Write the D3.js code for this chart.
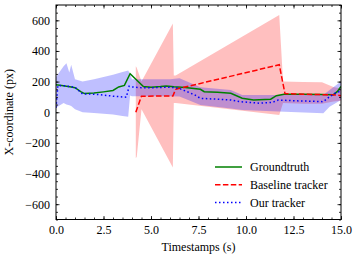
<!DOCTYPE html>
<html><head><meta charset="utf-8">
<script src="https://cdn.jsdelivr.net/npm/d3@7"></script>
<style>
html,body{margin:0;padding:0;background:#fff;}
svg{display:block;font-family:"Liberation Serif","DejaVu Serif",serif;}
</style></head>
<body>
<svg id="chart" width="358" height="259"></svg>
<script>
// ---- data ----
const gtT = [0, 0.3, 0.8, 1.0, 1.3, 1.5, 2.0, 2.5, 3.0, 3.3, 3.6, 3.9, 4.6, 5.0, 5.5, 5.8, 6.2, 6.8, 7.6, 7.8, 8.5, 9.2, 9.8, 10.4, 11.3, 11.6, 12.0, 13.0, 14.0, 14.6, 14.8, 15.0];
const gtV = [180, 175, 165, 160, 135, 122, 125, 133, 142, 165, 175, 252, 168, 163, 168, 172, 167, 162, 150, 134, 130, 124, 91, 80, 85, 108, 117, 117, 116, 115, 134, 168];

const baseT = [4.2, 4.5, 6.15, 6.3, 11.75, 12.05, 13.0, 14.0, 14.7, 15.0];
const baseV = [0, 105, 106, 150, 310, 122, 118, 115, 113, 108];
const baseBandT = [4.2, 4.25, 4.5, 6.15, 6.2, 6.3, 11.75, 11.95, 13.0, 14.0, 14.6, 15.0];
const baseUpper = [300, 290, 200, 580, 240, 240, 635, 200, 198, 195, 165, 155];
const baseLower = [-300, -290, 20, -360, 60, 60, -18, 60, 55, 55, 70, 75];

const oursT = [0, 0.1, 0.5, 1.0, 1.4, 2.0, 2.5, 3.0, 3.5, 3.7, 3.85, 4.0, 4.5, 5.0, 5.5, 6.0, 6.3, 6.6, 7.3, 7.6, 8.5, 9.2, 9.7, 10.7, 11.4, 11.7, 12.5, 13.5, 14.07, 14.4, 14.7, 15.0];
const oursV = [30, 175, 172, 163, 119, 118, 112, 105, 100, 98, 170, 165, 160, 160, 162, 163, 160, 150, 113, 91, 85, 80, 69, 59, 65, 80, 75, 72, 69, 102, 124, 140];
const oursBandT = [0, 0.4, 0.55, 0.7, 0.8, 1.0, 1.4, 2.0, 2.5, 3.0, 3.5, 3.8, 3.9, 4.0, 5.0, 6.0, 6.5, 7.6, 9.2, 9.8, 11.7, 14.07, 14.4, 15.0];
const oursUpper = [230, 300, 320, 260, 310, 215, 200, 215, 230, 245, 262, 272, 250, 215, 215, 215, 222, 163, 145, 113, 113, 113, 145, 200];
const oursLower = [30, 60, 50, 45, 40, 20, 0, -5, -10, -15, -25, -30, 110, 105, 105, 105, 102, 47, 25, 15, 5, -7, 36, 80];

const xMajor = [0, 2.5, 5, 7.5, 10, 12.5, 15];
const yMajor = [-600, -400, -200, 0, 200, 400, 600];
const legendLabels = ["Groundtruth", "Baseline tracker", "Our tracker"];

// ---- layout ----
const svg = d3.select("#chart");
const L = 56, R = 341, T = 5, B = 219.5;
const x = d3.scaleLinear().domain([0, 15]).range([L, R]);
const y = d3.scaleLinear().domain([-700, 700]).range([B, T]);
const FS = 12;

svg.append("clipPath").attr("id", "clip").append("rect")
  .attr("x", L).attr("y", T).attr("width", R - L).attr("height", B - T);
const g = svg.append("g").attr("clip-path", "url(#clip)");

function band(ts, up, lo) {
  return d3.area().x((d, i) => x(ts[i])).y0((d, i) => y(lo[i])).y1((d, i) => y(up[i]))(ts);
}
g.append("path").attr("d", band(baseBandT, baseUpper, baseLower))
  .attr("fill", "red").attr("fill-opacity", 0.25);
g.append("path").attr("d", band(oursBandT, oursUpper, oursLower))
  .attr("fill", "blue").attr("fill-opacity", 0.25);

function line(ts, vs) {
  return d3.line().x((d, i) => x(ts[i])).y((d, i) => y(vs[i]))(ts);
}
g.append("path").attr("d", line(gtT, gtV)).attr("fill", "none")
  .attr("stroke", "green").attr("stroke-width", 1.5);
g.append("path").attr("d", line(baseT, baseV)).attr("fill", "none")
  .attr("stroke", "red").attr("stroke-width", 1.5).attr("stroke-dasharray", "5.5,2.4");
g.append("path").attr("d", line(oursT, oursV)).attr("fill", "none")
  .attr("stroke", "blue").attr("stroke-width", 1.5).attr("stroke-dasharray", "1.5,2.5");

// ---- axes ----
const fmtY = d => d < 0 ? "\u2212" + Math.abs(d) : String(d);
const xMinor = d3.range(0, 15.001, 0.5);
const yMinor = d3.range(-700, 700.001, 50);

function styleAxis(sel) {
  sel.select(".domain").remove();
  sel.selectAll("line").attr("stroke", "#000").attr("stroke-width", 0.8);
  sel.selectAll("text").attr("font-size", FS).attr("fill", "#000")
     .attr("font-family", "'Liberation Serif', serif");
}
svg.append("g").attr("transform", `translate(0,${B})`)
  .call(d3.axisBottom(x).tickValues(xMinor).tickSize(-2).tickFormat(""))
  .call(styleAxis);
svg.append("g").attr("transform", `translate(0,${B})`)
  .call(d3.axisBottom(x).tickValues(xMajor).tickSize(-3.5).tickPadding(6).tickFormat(d3.format(".1f")))
  .call(styleAxis);
svg.append("g").attr("transform", `translate(0,${T})`)
  .call(d3.axisTop(x).tickValues(xMinor).tickSize(-2).tickFormat("")).call(styleAxis);
svg.append("g").attr("transform", `translate(0,${T})`)
  .call(d3.axisTop(x).tickValues(xMajor).tickSize(-3.5).tickFormat("")).call(styleAxis);
svg.append("g").attr("transform", `translate(${L},0)`)
  .call(d3.axisLeft(y).tickValues(yMinor).tickSize(-2).tickFormat("")).call(styleAxis);
svg.append("g").attr("transform", `translate(${L},0)`)
  .call(d3.axisLeft(y).tickValues(yMajor).tickSize(-3.5).tickPadding(6).tickFormat(fmtY))
  .call(styleAxis);
svg.append("g").attr("transform", `translate(${R},0)`)
  .call(d3.axisRight(y).tickValues(yMinor).tickSize(-2).tickFormat("")).call(styleAxis);
svg.append("g").attr("transform", `translate(${R},0)`)
  .call(d3.axisRight(y).tickValues(yMajor).tickSize(-3.5).tickFormat("")).call(styleAxis);

svg.append("rect").attr("x", L).attr("y", T).attr("width", R - L).attr("height", B - T)
  .attr("fill", "none").attr("stroke", "#000").attr("stroke-width", 1);

svg.append("text").attr("x", (L + R) / 2).attr("y", 250.5).attr("text-anchor", "middle")
  .attr("font-size", FS).text("Timestamps (s)");
svg.append("text").attr("transform", `translate(13,${(T + B) / 2}) rotate(-90)`)
  .attr("text-anchor", "middle").attr("font-size", FS).text("X-coordinate (px)");

const legStyles = [
  {stroke: "green", dash: null},
  {stroke: "red", dash: "5.5,2.4"},
  {stroke: "blue", dash: "1.5,2.5"}
];
const leg = svg.append("g");
legendLabels.forEach((lab, i) => {
  const yy = 167 + i * 17.8;
  leg.append("line").attr("x1", 215).attr("x2", 242).attr("y1", yy).attr("y2", yy)
    .attr("stroke", legStyles[i].stroke).attr("stroke-width", 1.5)
    .attr("stroke-dasharray", legStyles[i].dash);
  leg.append("text").attr("x", 250).attr("y", yy + 4).attr("font-size", FS).text(lab);
});
</script>
</body></html>
